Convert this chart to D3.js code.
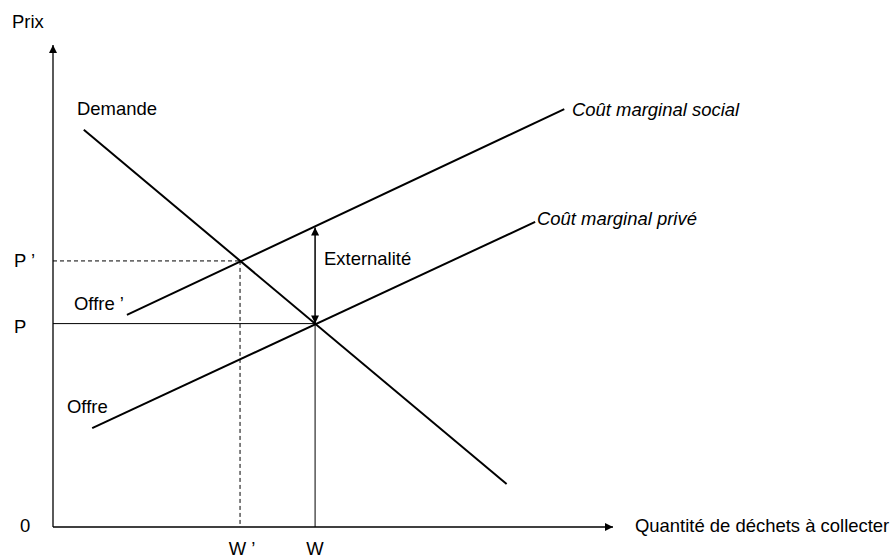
<!DOCTYPE html>
<html><head><meta charset="utf-8">
<script src="https://cdn.jsdelivr.net/npm/d3@7"></script>
<style>html,body{margin:0;padding:0;background:#fff;}svg{display:block;font-family:"Liberation Sans",Arial,sans-serif;}</style>
</head><body>
<svg id="c" width="891" height="559"></svg>
<script>
// ---- data (quantity q, price p in arbitrary units) ----
const axisLabels = ["Quantité de déchets à collecter", "Prix"];
const demande = [{q: 5.5, p: 82.4}, {q: 81.0, p: 8.9}];
const coutSocial = [{q: 13.2, p: 44.0}, {q: 91.3, p: 86.7}];
const coutPrive = [{q: 7.0, p: 20.5}, {q: 86.1, p: 63.3}];
const quantities = [33.4, 46.8];        // W', W
const quantityLabels = ["W ’", "W"];
const prices = [55.2, 42.2];            // P', P
const priceLabels = ["P ’", "P"];
const curveLabels = ["Demande", "Coût marginal social", "Coût marginal privé", "Offre ’", "Offre", "Externalité"];
const originLabel = "0";

const svg = d3.select("#c");
const x = d3.scaleLinear().domain([0, 100]).range([53, 613]);
const y = d3.scaleLinear().domain([0, 100]).range([527, 45]);
const line = d3.line().x(d => x(d.q)).y(d => y(d.p));

const defs = svg.append("defs");
defs.append("marker").attr("id", "ah").attr("viewBox", "0 0 10 10")
  .attr("refX", 10).attr("refY", 5).attr("markerWidth", 10).attr("markerHeight", 8)
  .attr("markerUnits", "userSpaceOnUse").attr("orient", "auto-start-reverse")
  .append("path").attr("d", "M0,0 L10,5 L0,10 Z").attr("fill", "#000");

// axes
svg.append("line").attr("x1", x(0)).attr("y1", y(0)).attr("x2", x(100)).attr("y2", y(0))
  .attr("stroke", "#000").attr("stroke-width", 1.3).attr("marker-end", "url(#ah)");
svg.append("line").attr("x1", x(0)).attr("y1", y(0)).attr("x2", x(0)).attr("y2", y(100))
  .attr("stroke", "#000").attr("stroke-width", 1.3).attr("marker-end", "url(#ah)");

// guides: P' / W' dashed
svg.append("line").attr("x1", x(0)).attr("y1", y(prices[0])).attr("x2", x(quantities[0])).attr("y2", y(prices[0]))
  .attr("stroke", "#000").attr("stroke-width", 1).attr("stroke-dasharray", "4,3");
svg.append("line").attr("x1", x(quantities[0])).attr("y1", y(prices[0])).attr("x2", x(quantities[0])).attr("y2", y(0))
  .attr("stroke", "#000").attr("stroke-width", 1).attr("stroke-dasharray", "4,3");
// P / W solid
svg.append("line").attr("x1", x(0)).attr("y1", y(prices[1])).attr("x2", x(quantities[1])).attr("y2", y(prices[1]))
  .attr("stroke", "#000").attr("stroke-width", 1);
svg.append("line").attr("x1", x(quantities[1])).attr("y1", y(prices[1])).attr("x2", x(quantities[1])).attr("y2", y(0))
  .attr("stroke", "#000").attr("stroke-width", 1);

// curves
[demande, coutSocial, coutPrive].forEach(d => {
  svg.append("path").attr("d", line(d)).attr("fill", "none").attr("stroke", "#000").attr("stroke-width", 2);
});

// externality arrow (between private and social cost at W)
function valAt(seg, q) { const t = (q - seg[0].q) / (seg[1].q - seg[0].q); return seg[0].p + t * (seg[1].p - seg[0].p); }
const pTop = valAt(coutSocial, quantities[1]);
const pBot = valAt(coutPrive, quantities[1]);
svg.append("line").attr("x1", x(quantities[1])).attr("x2", x(quantities[1]))
  .attr("y1", y(pBot) - 1).attr("y2", y(pTop) + 1)
  .attr("stroke", "#000").attr("stroke-width", 1.5)
  .attr("marker-start", "url(#ah)").attr("marker-end", "url(#ah)");

// text
const fs = 17.5, sx = 1.055;
function txt(s, px, py, italic, anchor) {
  svg.append("text").attr("transform", `translate(${px},${py}) scale(${sx},1)`).attr("font-size", fs)
    .attr("font-style", italic ? "italic" : "normal").attr("text-anchor", anchor || "start")
    .attr("fill", "#000").text(s);
}
txt(axisLabels[1], 12, 28);
txt(axisLabels[0], 635, 532);
txt(originLabel, 20, 532);
txt(priceLabels[0], 14, 267);
txt(priceLabels[1], 14, 333);
txt(quantityLabels[0], x(quantities[0]) + 2, 555, false, "middle");
txt(quantityLabels[1], x(quantities[1]), 555, false, "middle");
txt(curveLabels[0], 77, 115);
txt(curveLabels[1], 572, 116, true);
txt(curveLabels[2], 537, 225, true);
txt(curveLabels[3], 74, 310);
txt(curveLabels[4], 67, 413);
txt(curveLabels[5], 324, 265);
</script>
</body></html>
